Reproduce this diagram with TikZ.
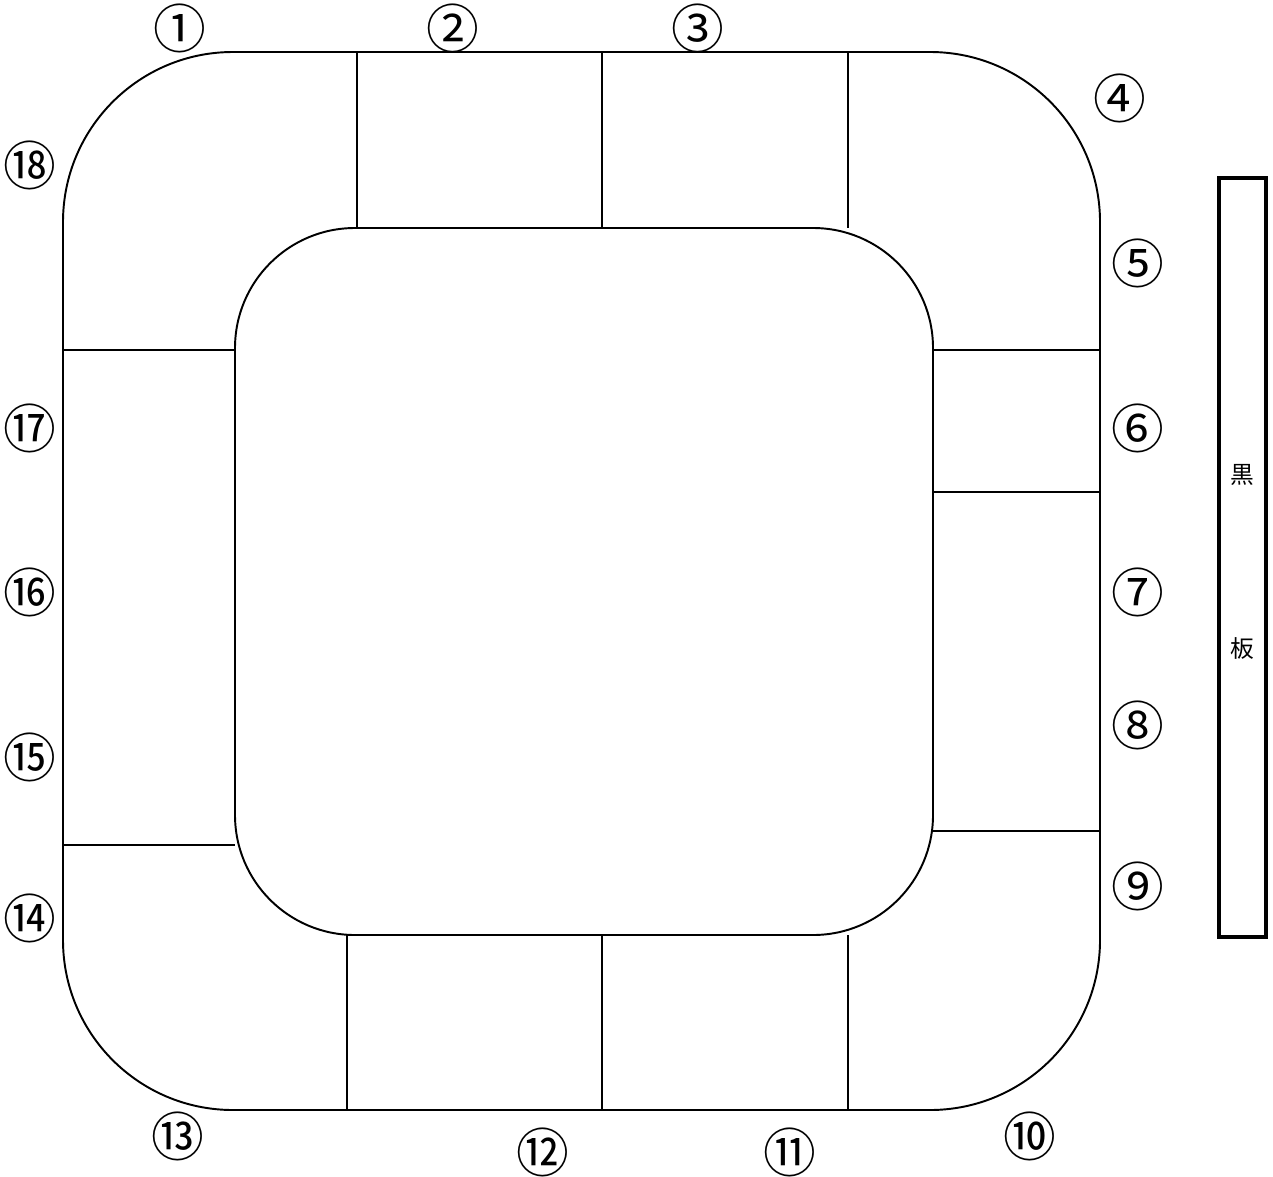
\documentclass[tikz,border=0pt]{standalone}
\usepackage{fontspec}
\setmainfont{Noto Sans CJK JP}
\begin{document}
\begin{tikzpicture}[x=0.02cm,y=-0.02cm,line width=1.1pt]
\tikzset{seatno/.style={font=\fontsize{30}{30}\selectfont,inner sep=0pt}}
\useasboundingbox (0,0) rectangle (1273,1176);
% table outline
\draw[rounded corners=3.4cm] (63,52) rectangle (1100,1110);
\draw[rounded corners=2.4cm] (235,228) rectangle (933,935);
% seat dividers
\foreach \x in {357,602,848}
  \draw (\x,52) -- (\x,228);
\foreach \x in {347,602,848}
  \draw (\x,935) -- (\x,1110);
\foreach \y in {350,845}
  \draw (63,\y) -- (235,\y);
\foreach \y in {350,492,831}
  \draw (933,\y) -- (1100,\y);
% seat numbers
\node[seatno] (n1) at (180,28) {①};
\node[seatno] (n2) at (453,28) {②};
\node[seatno] (n3) at (698,28) {③};
\node[seatno] (n4) at (1120,98) {④};
\node[seatno] (n5) at (1138,263) {⑤};
\node[seatno] (n6) at (1138,428) {⑥};
\node[seatno] (n7) at (1138,592) {⑦};
\node[seatno] (n8) at (1138,725) {⑧};
\node[seatno] (n9) at (1138,886) {⑨};
\node[seatno] (n10) at (1030,1136) {⑩};
\node[seatno] (n11) at (790,1152) {⑪};
\node[seatno] (n12) at (543,1152) {⑫};
\node[seatno] (n13) at (178,1136) {⑬};
\node[seatno] (n14) at (30,918) {⑭};
\node[seatno] (n15) at (30,757) {⑮};
\node[seatno] (n16) at (30,592) {⑯};
\node[seatno] (n17) at (30,428) {⑰};
\node[seatno] (n18) at (30,165) {⑱};
% blackboard
\draw[line width=2.8pt] (1219,178) rectangle (1266,937);
\node[font=\fontsize{13.5}{13.5}\selectfont] (kuro) at (1242,475) {黒};
\node[font=\fontsize{13.5}{13.5}\selectfont] (ban) at (1242,648) {板};
\end{tikzpicture}
\end{document}
